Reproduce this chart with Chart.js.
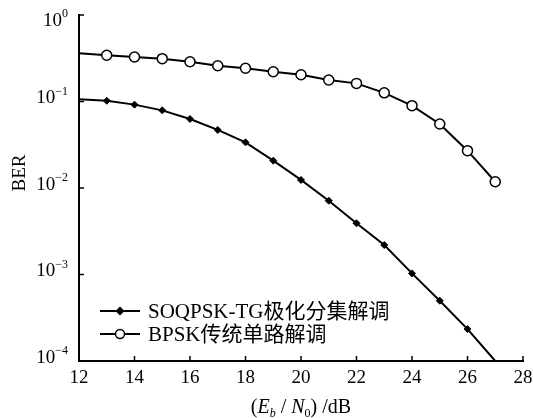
<!DOCTYPE html>
<html>
<head>
<meta charset="utf-8">
<script src="https://cdn.jsdelivr.net/npm/chart.js@4/dist/chart.umd.min.js"></script>
<style>
  html, body { margin: 0; padding: 0; background: #fff; }
  #wrap { width: 533px; height: 418px; }
</style>
</head>
<body>
<div id="wrap"><canvas id="berChart"></canvas></div>
<script>
// Eb/N0 (dB)
const snrDb = [12, 13, 14, 15, 16, 17, 18, 19, 20, 21, 22, 23, 24, 25, 26, 27];
// BER values
const berSoqpsk = [0.106, 0.102, 0.092, 0.079, 0.0628, 0.0469, 0.0337, 0.0207, 0.0124, 0.00713, 0.00391, 0.00219, 0.00103, 0.000498, 0.000234, 0.0001];
const berBpsk = [0.361, 0.342, 0.327, 0.313, 0.288, 0.259, 0.242, 0.221, 0.204, 0.177, 0.162, 0.126, 0.0895, 0.055, 0.027, 0.0118];
const seriesNames = ["SOQPSK-TG极化分集解调", "BPSK传统单路解调"];
const xTickValues = [12, 14, 16, 18, 20, 22, 24, 26, 28];
const yTickExponents = [0, -1, -2, -3, -4];

const SERIF = '"Liberation Serif", "Times New Roman", "Noto Sans CJK SC", serif';

// marks hidden at the ends where the reference shows none
const soqpskRadius = berSoqpsk.map((_, i) => (i === 0 || i === berSoqpsk.length - 1) ? 0 : 3.5);
const bpskRadius = berBpsk.map((_, i) => i === 0 ? 0 : 5);

// ticks, labels, titles and legend drawn by hand (inward ticks, superscripts)
const decorPlugin = {
    id: 'decor',
    afterDraw(chart) {
        const { ctx, chartArea: area, scales: { x, y } } = chart;
        ctx.save();
        ctx.strokeStyle = '#000';
        ctx.fillStyle = '#000';
        ctx.lineWidth = 1.5;

        // inward tick marks
        xTickValues.forEach(v => {
            const px = x.getPixelForValue(v);
            ctx.beginPath();
            ctx.moveTo(px, area.bottom);
            ctx.lineTo(px, area.bottom - 5);
            ctx.stroke();
        });
        yTickExponents.forEach(e => {
            const py = y.getPixelForValue(Math.pow(10, e));
            ctx.beginPath();
            ctx.moveTo(area.left, py);
            ctx.lineTo(area.left + 5, py);
            ctx.stroke();
        });

        // x tick labels
        ctx.font = '19px ' + SERIF;
        ctx.textAlign = 'center';
        ctx.textBaseline = 'middle';
        xTickValues.forEach(v => {
            ctx.fillText(String(v), x.getPixelForValue(v), area.bottom + 17);
        });

        // y tick labels 10^e
        const rightEdge = area.left - 11;
        yTickExponents.forEach(e => {
            const py = y.getPixelForValue(Math.pow(10, e)) + (e === 0 ? 6 : -3);
            const sup = e === 0 ? '0' : '\u2212' + Math.abs(e);
            ctx.font = '12px ' + SERIF;
            const supW = ctx.measureText(sup).width;
            ctx.textAlign = 'left';
            ctx.fillText(sup, rightEdge - supW, py - 7);
            ctx.font = '19px ' + SERIF;
            ctx.textAlign = 'right';
            ctx.fillText('10', rightEdge - supW, py);
        });

        // y title
        ctx.save();
        ctx.translate(20, 173);
        ctx.rotate(-Math.PI / 2);
        ctx.font = '19px ' + SERIF;
        ctx.textAlign = 'center';
        ctx.fillText('BER', 0, 0);
        ctx.restore();

        // x title: (E_b / N_0) /dB
        const parts = [
            { t: '(', f: '20px ' + SERIF, dy: 0 },
            { t: 'E', f: 'italic 20px ' + SERIF, dy: 0 },
            { t: 'b', f: 'italic 12px ' + SERIF, dy: 4 },
            { t: ' / ', f: '20px ' + SERIF, dy: 0 },
            { t: 'N', f: 'italic 20px ' + SERIF, dy: 0 },
            { t: '0', f: '12px ' + SERIF, dy: 4 },
            { t: ') /dB', f: '20px ' + SERIF, dy: 0 }
        ];
        let total = 0;
        parts.forEach(p => { ctx.font = p.f; p.w = ctx.measureText(p.t).width; total += p.w; });
        let cx = (area.left + area.right) / 2 - total / 2;
        ctx.textAlign = 'left';
        ctx.textBaseline = 'alphabetic';
        parts.forEach(p => {
            ctx.font = p.f;
            ctx.fillText(p.t, cx, 413 + p.dy);
            cx += p.w;
        });

        // legend
        ctx.textBaseline = 'middle';
        ctx.font = '21px ' + SERIF;
        chart.data.datasets.forEach((ds, i) => {
            const ly = area.bottom - 50 + i * 23;
            ctx.lineWidth = 2;
            ctx.strokeStyle = '#000';
            ctx.beginPath();
            ctx.moveTo(100, ly);
            ctx.lineTo(140, ly);
            ctx.stroke();
            ctx.lineWidth = 1.5;
            ctx.fillStyle = ds.pointBackgroundColor;
            Chart.helpers.drawPoint(ctx, { pointStyle: ds.pointStyle, radius: i === 0 ? 3.5 : 4.5, borderWidth: 1.5 }, 120, ly);
            ctx.fillStyle = '#000';
            ctx.fillText(ds.label, 148, ly + 1);
        });
        ctx.restore();
    }
};

new Chart(document.getElementById('berChart'), {
    type: 'line',
    data: {
        labels: snrDb,
        datasets: [
            {
                label: seriesNames[0],
                data: snrDb.map((v, i) => ({ x: v, y: berSoqpsk[i] })),
                borderColor: '#000',
                borderWidth: 2,
                pointStyle: 'rectRot',
                pointRadius: soqpskRadius,
                pointBackgroundColor: '#000',
                pointBorderColor: '#000',
                pointBorderWidth: 1,
                tension: 0
            },
            {
                label: seriesNames[1],
                data: snrDb.map((v, i) => ({ x: v, y: berBpsk[i] })),
                borderColor: '#000',
                borderWidth: 2,
                pointStyle: 'circle',
                pointRadius: bpskRadius,
                pointBackgroundColor: '#fff',
                pointBorderColor: '#000',
                pointBorderWidth: 1.5,
                tension: 0
            }
        ]
    },
    options: {
        responsive: true,
        maintainAspectRatio: false,
        animation: false,
        layout: { padding: { left: 79, right: 10, top: 15, bottom: 57 } },
        plugins: { legend: { display: false }, tooltip: { enabled: false } },
        scales: {
            x: {
                type: 'linear',
                min: 12,
                max: 28,
                ticks: { display: false },
                grid: { display: false },
                border: { display: true, color: '#000', width: 2 },
                afterFit: s => { s.height = 0; }
            },
            y: {
                type: 'logarithmic',
                min: 1e-4,
                max: 1,
                ticks: { display: false },
                grid: { display: false },
                border: { display: true, color: '#000', width: 2 },
                afterFit: s => { s.width = 0; }
            }
        }
    },
    plugins: [decorPlugin]
});
</script>
</body>
</html>
